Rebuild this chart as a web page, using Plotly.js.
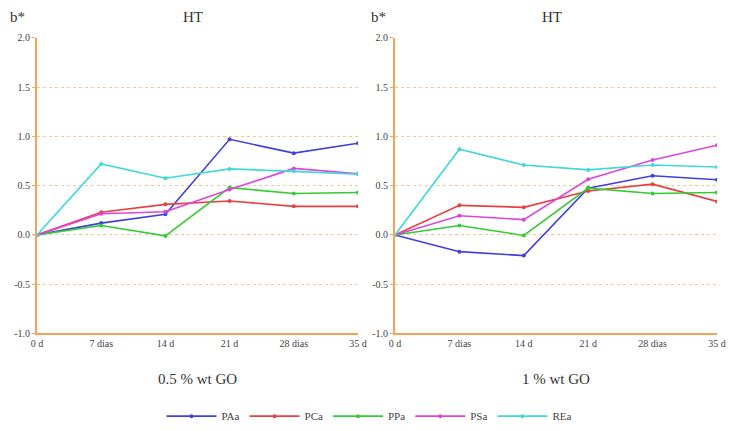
<!DOCTYPE html>
<html><head><meta charset="utf-8">
<script src="https://cdn.plot.ly/plotly-3.0.1.min.js"></script>
<style>body{margin:0;background:#fff}#c{width:739px;height:431px}</style>
</head><body><div id="c"></div>
<script>
const categories = ["0 d", "7 dias", "14 d", "21 d", "28 dias", "35 d"];
const seriesNames = ["PAa", "PCa", "PPa", "PSa", "REa"];
const seriesColors = ["#4040e0", "#e84040", "#33cc33", "#dd44dd", "#40d8d8"];
// 0.5 % wt GO
const left_PAa = [0, 0.12, 0.21, 0.97, 0.83, 0.93];
const left_PCa = [0, 0.23, 0.31, 0.345, 0.29, 0.29];
const left_PPa = [0, 0.095, -0.01, 0.48, 0.42, 0.43];
const left_PSa = [0, 0.215, 0.235, 0.46, 0.675, 0.62];
const left_REa = [0, 0.72, 0.575, 0.67, 0.645, 0.615];
// 1 % wt GO
const right_PAa = [0, -0.17, -0.21, 0.475, 0.60, 0.56];
const right_PCa = [0, 0.30, 0.28, 0.445, 0.515, 0.34];
const right_PPa = [0, 0.095, -0.005, 0.475, 0.42, 0.43];
const right_PSa = [0, 0.195, 0.155, 0.565, 0.76, 0.91];
const right_REa = [0, 0.87, 0.71, 0.66, 0.71, 0.69];
const yTicks = [-1.0, -0.5, 0.0, 0.5, 1.0, 1.5, 2.0];
const yTickText = ["-1.0", "-0.5", "0.0", "0.5", "1.0", "1.5", "2.0"];

const leftData = [left_PAa, left_PCa, left_PPa, left_PSa, left_REa];
const rightData = [right_PAa, right_PCa, right_PPa, right_PSa, right_REa];
const traces = [];
leftData.forEach((v, i) => traces.push({
  x: categories, y: v, type: "scatter", mode: "lines+markers", name: seriesNames[i],
  line: {color: seriesColors[i], width: 1.6}, marker: {color: seriesColors[i], size: 4},
  xaxis: "x", yaxis: "y", legendgroup: seriesNames[i]
}));
rightData.forEach((v, i) => traces.push({
  x: categories, y: v, type: "scatter", mode: "lines+markers", name: seriesNames[i],
  line: {color: seriesColors[i], width: 1.6}, marker: {color: seriesColors[i], size: 4},
  xaxis: "x2", yaxis: "y2", legendgroup: seriesNames[i], showlegend: false
}));

const FAM = "Times New Roman";
const font = {family: FAM, color: "#444", size: 10};
const orange = "#f5a455";
const xax = (dom, anchor) => ({
  domain: dom, anchor: anchor, type: "category", range: [0, 5],
  showline: true, linecolor: orange, linewidth: 2, showgrid: false, zeroline: false,
  ticks: "", tickfont: font, fixedrange: true
});
const yax = (anchor) => ({
  domain: [0.2227, 0.9118], anchor: anchor, range: [-1, 2],
  tickvals: yTicks, ticktext: yTickText, showline: true, linecolor: orange, linewidth: 2,
  ticks: "outside", ticklen: 3, tickcolor: orange, showgrid: true, gridcolor: "#f8c892",
  griddash: "dot", gridwidth: 1, zeroline: false, tickfont: font, fixedrange: true
});
const tfont = {family: FAM, color: "#333", size: 15};
const layout = {
  width: 739, height: 431, margin: {l: 0, r: 0, t: 0, b: 0},
  paper_bgcolor: "#fff", plot_bgcolor: "#fff",
  font: {family: FAM},
  xaxis: xax([0.0501, 0.4844], "y"),
  yaxis: yax("x"),
  xaxis2: xax([0.5345, 0.9702], "y2"),
  yaxis2: yax("x2"),
  showlegend: true,
  legend: {orientation: "h", x: 0.5, xanchor: "center", y: 0.03, yanchor: "middle",
    font: {family: FAM, color: "#444", size: 11},
    itemwidth: 50, tracegroupgap: 0},
  annotations: [
    {text: "b*", x: 17/739, y: 1-17/431, xref: "paper", yref: "paper", showarrow: false, font: tfont, xanchor: "center", yanchor: "middle"},
    {text: "HT", x: 193/739, y: 1-17/431, xref: "paper", yref: "paper", showarrow: false, font: tfont, xanchor: "center", yanchor: "middle"},
    {text: "b*", x: 378/739, y: 1-17/431, xref: "paper", yref: "paper", showarrow: false, font: tfont, xanchor: "center", yanchor: "middle"},
    {text: "HT", x: 552/739, y: 1-17/431, xref: "paper", yref: "paper", showarrow: false, font: tfont, xanchor: "center", yanchor: "middle"},
    {text: "0.5 % wt GO", x: 197/739, y: 1-381/431, xref: "paper", yref: "paper", showarrow: false, font: tfont, xanchor: "center", yanchor: "middle"},
    {text: "1 % wt GO", x: 556/739, y: 1-381/431, xref: "paper", yref: "paper", showarrow: false, font: tfont, xanchor: "center", yanchor: "middle"}
  ]
};
Plotly.newPlot("c", traces, layout, {displayModeBar: false, staticPlot: true});
</script></body></html>
